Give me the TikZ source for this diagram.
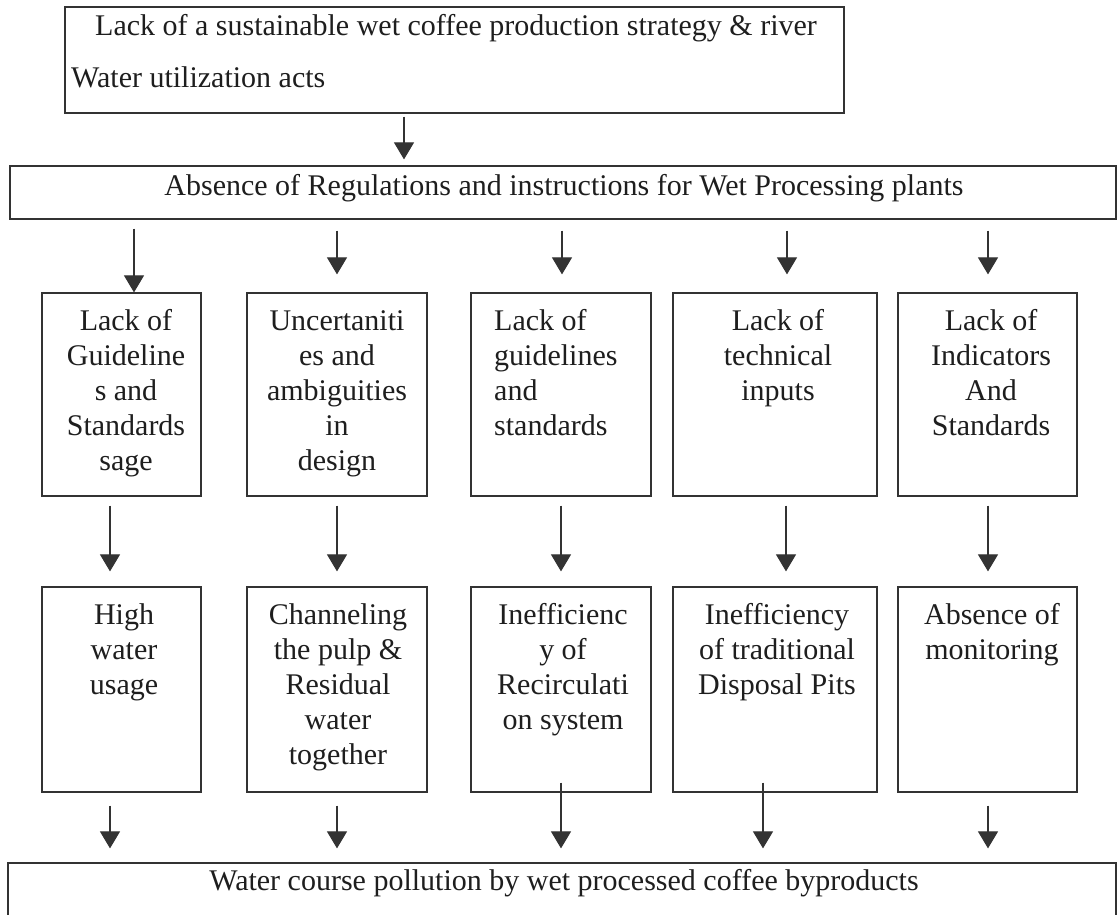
\documentclass[tikz,border=0pt]{standalone}
\usepackage{fontspec}
\setmainfont{Liberation Serif}
\usetikzlibrary{arrows.meta}
\definecolor{ink}{HTML}{333333}
\definecolor{txtc}{HTML}{1E1E1E}
\begin{document}
\begin{tikzpicture}[x=1pt,y=-1pt,
  box/.style={draw=ink, line width=1.2pt, inner sep=0pt},
  txt/.style={font=\fontsize{30}{35}\selectfont, text=txtc, inner sep=0pt, align=center, anchor=north},
  line/.style={font=\fontsize{30}{35}\selectfont, text=txtc, inner sep=0pt},
  arr/.style={draw=ink, line width=1.1pt, -{Triangle[length=17pt,width=20pt]}}]
\useasboundingbox (0,0) rectangle (1117,914);
\clip (0,0) rectangle (1117,914);
\fill[white] (0,0) rectangle (1117,914);
% boxes
\node[box, minimum width=779pt, minimum height=106pt] (T) at (454.5,60) {};
\node[box, minimum width=1106pt, minimum height=53pt] (R) at (563,192.5) {};
\node[box, minimum width=159pt, minimum height=203pt] (B1) at (121.5,394.5) {};
\node[box, minimum width=180pt, minimum height=203pt] (B2) at (337,394.5) {};
\node[box, minimum width=180pt, minimum height=203pt] (B3) at (561,394.5) {};
\node[box, minimum width=204pt, minimum height=203pt] (B4) at (775,394.5) {};
\node[box, minimum width=179pt, minimum height=203pt] (B5) at (987.5,394.5) {};
\node[box, minimum width=159pt, minimum height=205pt] (C1) at (121.5,689.5) {};
\node[box, minimum width=180pt, minimum height=205pt] (C2) at (337,689.5) {};
\node[box, minimum width=180pt, minimum height=205pt] (C3) at (561,689.5) {};
\node[box, minimum width=204pt, minimum height=205pt] (C4) at (775,689.5) {};
\node[box, minimum width=179pt, minimum height=205pt] (C5) at (987.5,689.5) {};
\node[box, minimum width=1108pt, minimum height=67pt] (W) at (562,896.5) {};
% texts
\node[line, anchor=base west] (t1) at (95,35) {Lack of a sustainable wet coffee production strategy \& river};
\node[line, anchor=base west] (t2) at (71,87) {Water utilization acts};
\node[line, anchor=base] (rt) at (564,195) {Absence of Regulations and instructions for Wet Processing plants};
\node[txt] (b1t) at (126,306) {\strut Lack of\\Guideline\\s and\\Standards\\sage};
\node[txt] (b2t) at (337,306) {\strut Uncertaniti\\es and\\ambiguities\\in\\design};
\node[txt, align=left, anchor=north west] (b3t) at (494,306) {\strut Lack of\\guidelines\\and\\standards};
\node[txt] (b4t) at (778,306) {\strut Lack of\\technical\\inputs};
\node[txt] (b5t) at (991,306) {\strut Lack of\\Indicators\\And\\Standards};
\node[txt] (c1t) at (124,600) {\strut High\\water\\usage};
\node[txt] (c2t) at (338,600) {\strut Channeling\\the pulp \&\\Residual\\water\\together};
\node[txt] (c3t) at (563,600) {\strut Inefficienc\\y of\\Recirculati\\on system};
\node[txt] (c4t) at (777,600) {\strut Inefficiency\\of traditional\\Disposal Pits};
\node[txt] (c5t) at (992,600) {\strut Absence of\\monitoring};
\node[line, anchor=base] (wt) at (564,890) {Water course pollution by wet processed coffee byproducts};
% arrow columns
\coordinate (k0) at (404,0);
\coordinate (k1) at (134,0);
\coordinate (k2) at (337,0);
\coordinate (k3) at (562,0);
\coordinate (k4) at (787,0);
\coordinate (k5) at (988,0);
\coordinate (m1) at (110,0);
\coordinate (m3) at (561,0);
\coordinate (m4) at (786,0);
\coordinate (n4) at (763,0);
% arrows
\draw[arr, shorten <=3pt, shorten >=6pt] (T.south -| k0) -- (R.north -| k0);
\draw[arr, shorten <=9pt] (R.south -| k1) -- (B1.north -| k1);
\draw[arr, shorten <=11pt, shorten >=18pt] (R.south -| k2) -- (B2.north -| k2);
\draw[arr, shorten <=11pt, shorten >=18pt] (R.south -| k3) -- (B3.north -| k3);
\draw[arr, shorten <=11pt, shorten >=18pt] (R.south -| k4) -- (B4.north -| k4);
\draw[arr, shorten <=11pt, shorten >=18pt] (R.south -| k5) -- (B5.north -| k5);
\draw[arr, shorten <=9pt, shorten >=15pt] (B1.south -| m1) -- (C1.north -| m1);
\draw[arr, shorten <=9pt, shorten >=15pt] (B2.south -| k2) -- (C2.north -| k2);
\draw[arr, shorten <=9pt, shorten >=15pt] (B3.south -| m3) -- (C3.north -| m3);
\draw[arr, shorten <=9pt, shorten >=15pt] (B4.south -| m4) -- (C4.north -| m4);
\draw[arr, shorten <=9pt, shorten >=15pt] (B5.south -| k5) -- (C5.north -| k5);
\draw[arr, shorten <=13pt, shorten >=14pt] (C1.south -| m1) -- (W.north -| m1);
\draw[arr, shorten <=13pt, shorten >=14pt] (C2.south -| k2) -- (W.north -| k2);
\draw[arr, shorten <=-10pt, shorten >=14pt] (C3.south -| m3) -- (W.north -| m3);
\draw[arr, shorten <=-10pt, shorten >=14pt] (C4.south -| n4) -- (W.north -| n4);
\draw[arr, shorten <=13pt, shorten >=14pt] (C5.south -| k5) -- (W.north -| k5);
\end{tikzpicture}
\end{document}
